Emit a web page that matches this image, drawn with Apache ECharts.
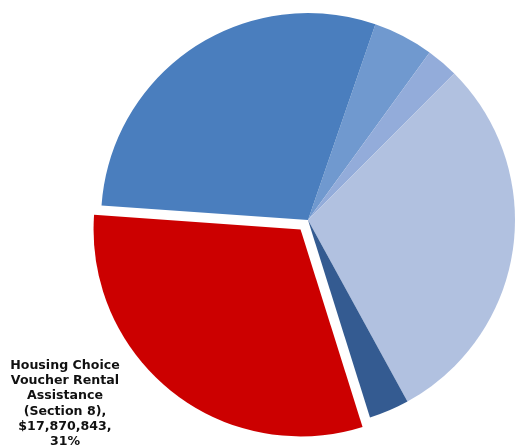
<!DOCTYPE html>
<html>
<head>
<meta charset="utf-8">
<style>
  html, body { margin: 0; padding: 0; background: #ffffff; }
  #chart { width: 516px; height: 448px; }
</style>
<script src="https://cdn.jsdelivr.net/npm/echarts@6/dist/echarts.min.js"></script>
</head>
<body>
<div id="chart"></div>
<script>
// Funding by program, in dollars (slices go clockwise from the top-right)
const programs = [
  'Program A',
  'Program B',
  'Program C',
  'Program D',
  'Housing Choice\nVoucher Rental\nAssistance\n(Section 8)',
  'Program E'
];
const amounts = [2720000, 1440000, 17050000, 1810000, 17870843, 16830000];
const sliceColors = ['#7099cf', '#93acda', '#b1c1e0', '#345b91', '#cc0000', '#4a7ebe'];
// Program that is pulled out and labelled
const highlighted = 4;

const chart = echarts.init(document.getElementById('chart'), null, { renderer: 'canvas' });

const dollars = v => '$' + v.toLocaleString('en-US');

chart.setOption({
  animation: false,
  backgroundColor: '#ffffff',
  series: [{
    type: 'pie',
    center: [308, 220],
    radius: 207,
    startAngle: 71,
    clockwise: true,
    selectedMode: 'single',
    selectedOffset: 12,
    avoidLabelOverlap: false,
    silent: true,
    emphasis: { disabled: true },
    itemStyle: { borderWidth: 0 },
    label: { show: false },
    labelLine: { show: false },
    labelLayout: function (p) {
      if (p.dataIndex === highlighted) {
        return { dx: -63, y: 402, align: 'center', verticalAlign: 'middle' };
      }
    },
    data: programs.map((name, i) => ({
      name: name,
      value: amounts[i],
      selected: i === highlighted,
      itemStyle: { color: sliceColors[i] },
      label: i === highlighted ? {
        show: true,
        position: 'outside',
        formatter: p => p.name + ',\n' + dollars(p.value) + ',\n' + Math.round(p.percent) + '%',
        fontFamily: 'DejaVu Sans',
        fontWeight: 'bold',
        fontSize: 12.6,
        lineHeight: 15.2,
        color: '#111111',
        align: 'center'
      } : { show: false }
    }))
  }]
});
</script>
</body>
</html>
